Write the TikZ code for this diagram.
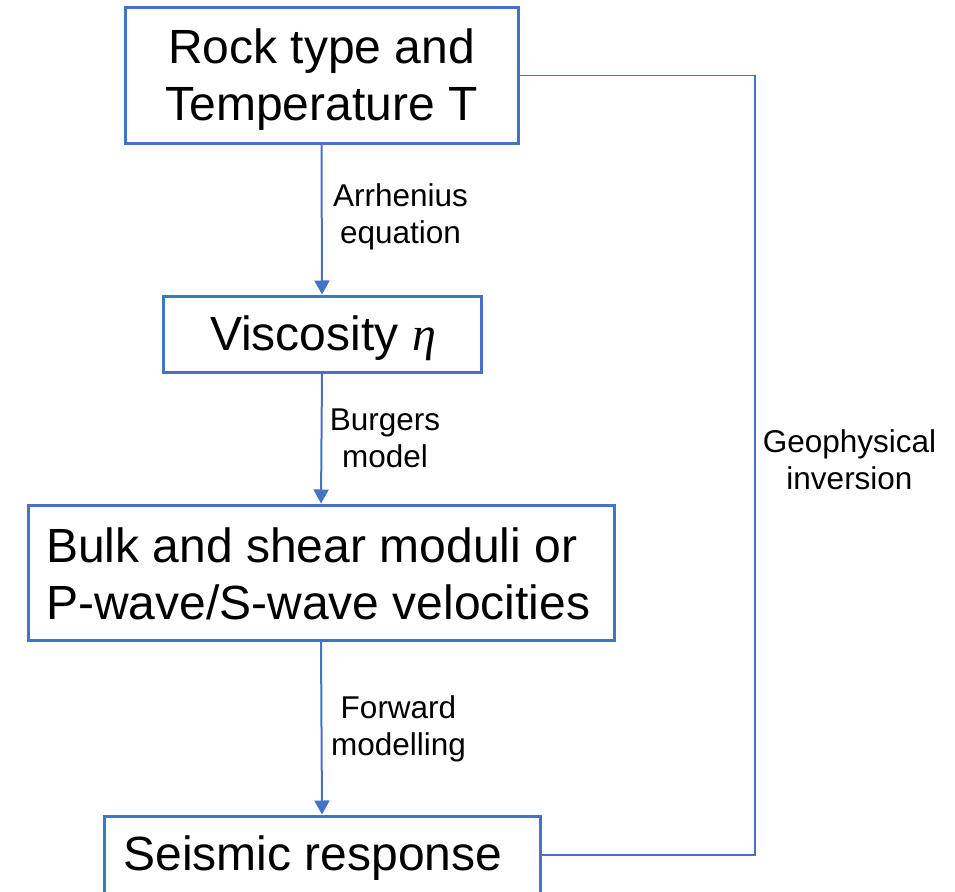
\documentclass[tikz,border=0pt]{standalone}
\usepackage{fontspec}
\setmainfont{Liberation Sans}
\newfontfamily\etafont{Liberation Serif}
\usetikzlibrary{arrows.meta}
\definecolor{boxblue}{HTML}{4472C4}
\begin{document}
\begin{tikzpicture}[x=1pt,y=-1pt,
  flowbox/.style={draw=boxblue, line width=3pt, fill=white, inner sep=0pt},
  boxtext/.style={align=center, inner sep=0pt, font=\fontsize{48}{57}\selectfont},
  flowarrow/.style={draw=boxblue, line width=2pt, -{Triangle[width=15pt,length=14pt]}},
  backline/.style={draw=boxblue, line width=1.3pt},
  steplabel/.style={align=center, inner sep=0pt, font=\fontsize{31.5}{37}\selectfont}]
\useasboundingbox (0,0) rectangle (955,891);
\clip (0,0) rectangle (955,891);
\node[flowbox, minimum width=393pt, minimum height=135pt] (b1) at (321.5,75.5) {};
\node[flowbox, minimum width=318pt, minimum height=76pt] (b2) at (322,334) {};
\node[flowbox, minimum width=586pt, minimum height=135pt] (b3) at (321,572.5) {};
\node[flowbox, minimum width=436pt, minimum height=78pt] (b4) at (322,855) {};
\node[boxtext] (t1) at (321.5,80) {Rock type and\\Temperature T};
\node[boxtext] (t2) at (323,338.5) {Viscosity {\etafont\itshape η}};
\node[boxtext, align=left, anchor=west] (t3) at (46,573.5) {Bulk and shear moduli or\\P-wave/S-wave velocities};
\node[boxtext] (t4) at (313,858.5) {Seismic response};
\draw[flowarrow] (b1.south) -- (b2.north);
\draw[flowarrow] (b2.south) -- (b3.north);
\draw[flowarrow] (b3.south) -- (b4.north);
\coordinate (corner) at (755,75.5);
\draw[backline] (b1.east) -- (corner) |- (b4.east);
\node[steplabel] (l1) at (400.5,217) {Arrhenius\\equation};
\node[steplabel] (l2) at (385,438) {Burgers\\model};
\node[steplabel] (l3) at (398.5,728.5) {Forward\\modelling};
\node[steplabel] (l4) at (849.5,459.5) {Geophysical\\inversion};
\end{tikzpicture}
\end{document}
